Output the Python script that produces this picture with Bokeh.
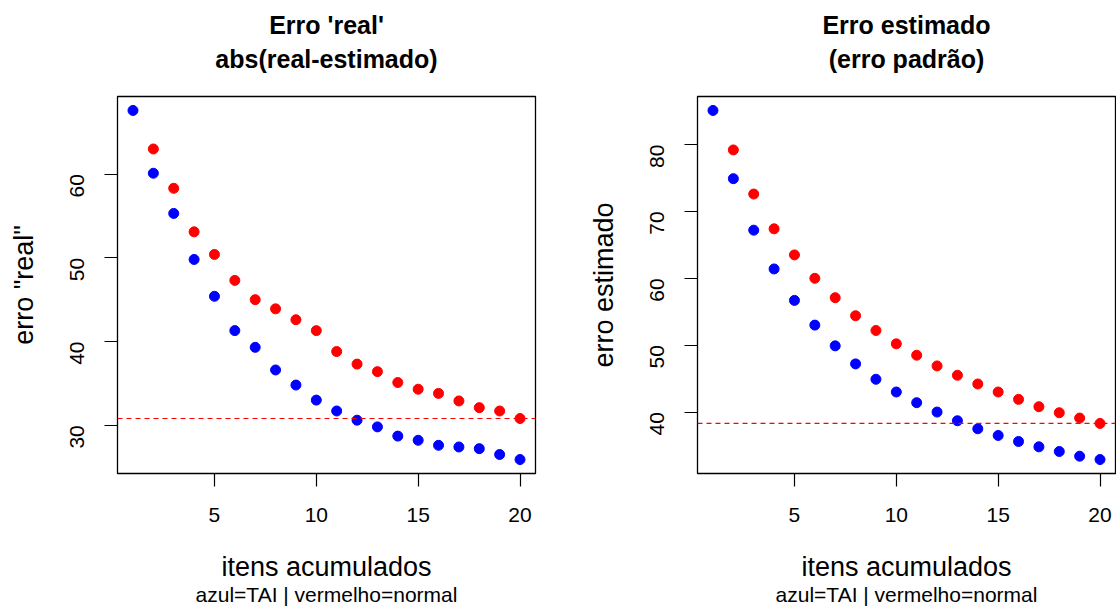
import math
from bokeh.plotting import figure
from bokeh.layouts import row
from bokeh.models import Span, Title, FixedTicker, Range1d
from bokeh.embed import file_html
from bokeh.resources import INLINE

items = list(range(1, 21))

# Left panel: erro 'real'
real_tai = [67.6, 60.1, 55.3, 49.8, 45.4, 41.3, 39.3, 36.6, 34.8, 33.0,
            31.7, 30.6, 29.8, 28.7, 28.2, 27.6, 27.4, 27.2, 26.5, 25.9]
real_normal_x = list(range(2, 21))
real_normal = [63.0, 58.3, 53.1, 50.4, 47.3, 45.0, 43.9, 42.6, 41.3, 38.8,
               37.3, 36.4, 35.1, 34.3, 33.8, 32.9, 32.1, 31.7, 30.8]

# Right panel: erro estimado (erro padrao)
est_tai = [85.1, 74.9, 67.2, 61.4, 56.7, 53.0, 49.9, 47.2, 44.9, 43.0,
           41.4, 40.0, 38.7, 37.5, 36.5, 35.6, 34.8, 34.1, 33.4, 32.9]
est_normal_x = list(range(2, 21))
est_normal = [79.2, 72.6, 67.4, 63.5, 60.0, 57.1, 54.4, 52.2, 50.2, 48.5,
              46.9, 45.5, 44.2, 43.0, 41.9, 40.8, 39.9, 39.1, 38.3]

left_yticks = [30, 40, 50, 60]
right_yticks = [40, 50, 60, 70, 80]
xticks = [5, 10, 15, 20]

FONT = "Liberation Sans"


def pad_range(vals):
    lo, hi = min(vals), max(vals)
    d = (hi - lo) * 0.04
    return lo - d, hi + d


def panel(title1, title2, ylabel, xs_b, ys_b, xs_r, ys_r, yticks,
          border_left, border_right):
    x0, x1 = pad_range(xs_b + xs_r)
    y0, y1 = pad_range(ys_b + ys_r)
    p = figure(frame_width=418, frame_height=377,
               min_border_left=border_left, min_border_right=border_right,
               min_border_top=96, min_border_bottom=134,
               x_range=Range1d(x0, x1), y_range=Range1d(y0, y1),
               output_backend="svg", toolbar_location=None, title=None)
    p.background_fill_color = "white"
    p.border_fill_color = "white"
    p.outline_line_color = "black"
    p.outline_line_width = 1.3
    p.xgrid.visible = False
    p.ygrid.visible = False

    p.add_layout(Span(location=ys_r[-1], dimension="width", line_color="red",
                      line_dash="5 4", line_width=1.2))
    p.scatter(xs_r, ys_r, size=10, color="red")
    p.scatter(xs_b, ys_b, size=10, color="blue")

    for ax in (p.xaxis[0], p.yaxis[0]):
        ax.axis_line_color = None
        ax.major_tick_line_color = "black"
        ax.major_tick_line_width = 1.2
        ax.major_tick_out = 13
        ax.major_tick_in = 0
        ax.minor_tick_line_color = None
        ax.major_label_text_font = FONT
        ax.major_label_text_font_size = "21px"
        ax.major_label_text_color = "black"
        ax.axis_label_text_font = FONT
        ax.axis_label_text_font_size = "27px"
        ax.axis_label_text_font_style = "normal"
        ax.axis_label_text_color = "black"

    p.xaxis.ticker = FixedTicker(ticks=xticks)
    p.yaxis.ticker = FixedTicker(ticks=yticks)
    p.xaxis.major_label_standoff = 21
    p.yaxis.major_label_standoff = 27
    p.yaxis.major_label_orientation = math.pi / 2
    p.xaxis.axis_label = "itens acumulados"
    p.yaxis.axis_label = ylabel
    p.xaxis.axis_label_standoff = 27
    p.yaxis.axis_label_standoff = 22

    p.add_layout(Title(text="azul=TAI | vermelho=normal", align="center",
                       text_font=FONT, text_font_size="21px",
                       text_font_style="normal", text_color="black",
                       standoff=-7), "below")
    p.add_layout(Title(text=title2, align="center", text_font=FONT,
                       text_font_size="25px", text_font_style="bold",
                       text_color="black", standoff=48), "above")
    p.add_layout(Title(text=title1, align="center", text_font=FONT,
                       text_font_size="25px", text_font_style="bold",
                       text_color="black", standoff=-40), "above")
    return p


p1 = panel("Erro 'real'", "abs(real-estimado)", 'erro "real"',
           items, real_tai, real_normal_x, real_normal, left_yticks, 117, 48)
p2 = panel("Erro estimado", "(erro padrão)", "erro estimado",
           items, est_tai, est_normal_x, est_normal, right_yticks, 114, 1)

layout = row(p1, p2)
open("out.html", "w").write(file_html(layout, INLINE))
